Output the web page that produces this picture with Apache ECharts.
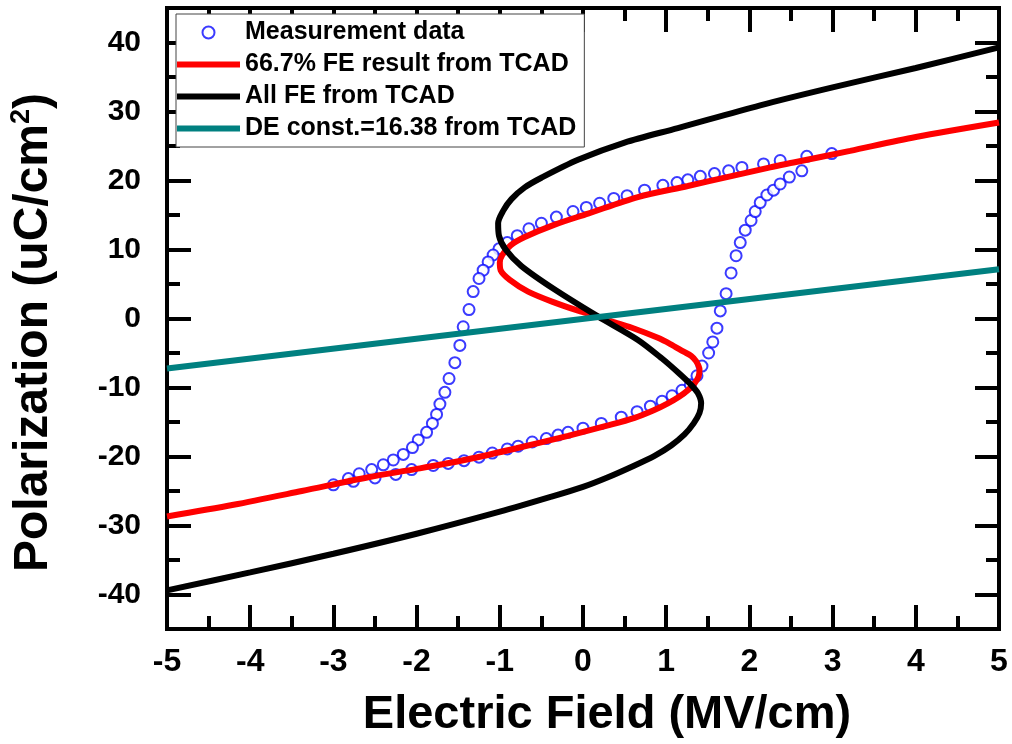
<!DOCTYPE html>
<html><head><meta charset="utf-8">
<script src="https://cdn.jsdelivr.net/npm/echarts@6/dist/echarts.min.js"></script>
<style>html,body{margin:0;padding:0;background:#fff}#c{width:1012px;height:744px}</style>
</head><body><div id="c"></div>
<script>
// ---- tick labels ----
const xTicks = [-5,-4,-3,-2,-1,0,1,2,3,4,5];
const yMajorTicks = [-40,-30,-20,-10,0,10,20,30,40];
const yMinorTicks = [-35,-25,-15,-5,5,15,25,35];

// ---- series names ----
const seriesNames = ['Measurement data','66.7% FE result from TCAD','All FE from TCAD','DE const.=16.38 from TCAD'];

// ---- Measurement data (loop order) ----
const measE = [-3.00,-2.76,-2.50,-2.25,-2.06,-1.80,-1.62,-1.43,-1.25,-1.09,-0.91,-0.78,-0.61,-0.44,-0.30,-0.18,0.00,0.22,0.46,0.65,0.81,0.95,1.07,1.19,1.29,1.37,1.43,1.51,1.56,1.61,1.65,1.72,1.78,1.84,1.89,1.95,2.02,2.07,2.13,2.21,2.29,2.37,2.48,2.63,2.99,
  2.69,2.37,2.17,1.91,1.75,1.58,1.41,1.26,1.13,0.96,0.74,0.53,0.37,0.20,0.04,-0.12,-0.32,-0.50,-0.65,-0.79,-0.91,-1.01,-1.08,-1.14,-1.20,-1.25,-1.32,-1.37,-1.44,-1.48,-1.54,-1.61,-1.66,-1.72,-1.76,-1.81,-1.88,-1.98,-2.05,-2.16,-2.28,-2.40,-2.54,-2.69,-2.82];
const measP = [-24.1,-23.6,-23.1,-22.6,-21.9,-21.3,-21.0,-20.6,-20.1,-19.5,-18.9,-18.5,-17.9,-17.4,-16.9,-16.5,-15.9,-15.2,-14.3,-13.5,-12.7,-12.0,-11.2,-10.4,-9.6,-8.3,-6.9,-5.0,-3.4,-1.4,1.1,3.6,6.6,9.1,11.0,12.8,14.2,15.5,16.8,17.9,18.6,19.5,20.5,21.4,23.9,
  23.5,22.9,22.4,21.9,21.4,21.0,20.6,20.1,19.7,19.3,18.6,17.8,17.4,16.7,16.1,15.5,14.7,13.8,13.0,12.0,11.0,10.1,9.2,8.2,7.0,5.8,3.9,1.3,-1.2,-3.9,-6.4,-8.7,-10.7,-12.4,-13.9,-15.2,-16.5,-17.6,-18.7,-19.7,-20.5,-21.2,-21.9,-22.5,-23.2];

// ---- 66.7% FE result from TCAD ----
const feE = [-5.00,-4.20,-3.38,-2.58,-2.00,-1.38,-0.80,-0.18,0.30,0.62,0.85,1.02,1.16,1.26,1.34,1.39,1.40,1.36,1.30,1.21,1.05,0.90,0.58,0.34,0.15,-0.05,-0.34,-0.66,-0.88,-0.99,-1.00,-0.97,-0.87,-0.70,-0.34,0.06,0.66,1.26,1.77,2.25,2.53,3.21,4.00,5.00];
const feP = [-28.7,-27.0,-25.0,-23.0,-21.8,-20.4,-18.8,-17.0,-15.5,-14.4,-13.3,-12.3,-11.3,-10.4,-9.4,-8.4,-7.4,-6.2,-5.4,-4.8,-3.7,-2.8,-1.3,-0.4,0.4,1.1,2.3,3.9,5.6,7.0,8.1,9.2,10.6,11.8,13.6,15.2,17.6,19.2,20.6,21.9,22.6,24.3,26.3,28.4];

// ---- All FE from TCAD ----
const allE = [-5.00,-4.00,-3.00,-2.00,-1.00,-0.40,0.00,0.30,0.60,0.86,1.06,1.22,1.33,1.40,1.42,1.38,1.29,1.15,0.95,0.66,0.18,-0.34,-0.74,-0.93,-1.01,-1.02,-0.96,-0.86,-0.70,-0.50,-0.06,0.50,1.14,2.13,3.00,4.00,5.00];
const allP = [-39.4,-36.8,-34.1,-31.2,-28.0,-25.9,-24.4,-23.0,-21.4,-19.9,-18.4,-16.8,-15.2,-13.7,-12.3,-10.8,-9.5,-7.9,-5.8,-3.1,0.3,4.2,7.6,10.0,12.0,13.8,15.6,17.3,19.0,20.4,23.0,25.5,27.6,30.9,33.5,36.3,39.3];

// ---- DE const.=16.38 from TCAD ----
const deE = [-5.00,5.00];
const deP = [-7.25,7.15];

const F = '"Liberation Sans", Arial, sans-serif';
const pairs = (a,b) => a.map((v,i)=>[v,b[i]]);

const tickStyle = {color:'#000', width:4};
function xAx(pos, labels){
  return {type:'value', position:pos, min:-5, max:5, interval:1,
    axisLine:{show:false,onZero:false},
    axisTick:{show:true,inside:true,length:24,lineStyle:tickStyle},
    minorTick:{show:true,splitNumber:2,length:13,lineStyle:tickStyle},
    splitLine:{show:false}, minorSplitLine:{show:false},
    axisLabel:{show:labels,customValues:xTicks,margin:17,fontSize:32,fontWeight:'bold',fontFamily:F,color:'#000'},
    name: labels ? 'Electric Field (MV/cm)' : '', nameLocation:'middle', nameGap:63,
    nameTextStyle:{fontSize:47,fontWeight:'bold',fontFamily:F,color:'#000',padding:[0,0,0,48]}
  };
}
function yAx(pos, ticks, len, labels){
  return {type:'value', position:pos, min:-45, max:45,
    axisLine:{show:false,onZero:false},
    axisTick:{show:true,inside:true,length:len,customValues:ticks,lineStyle:tickStyle},
    splitLine:{show:false},
    axisLabel:{show:labels,customValues:yMajorTicks,margin:26,fontSize:30,fontWeight:'bold',fontFamily:F,color:'#000'},
    name: labels ? '{a|Polarization (uC/cm}{s|2}{a|)}' : '', nameLocation:'middle', nameGap:107,
    nameTextStyle:{fontWeight:'bold',fontFamily:F,color:'#000',padding:[0,28,0,0],
      rich:{a:{fontSize:48,fontWeight:'bold',fontFamily:F,color:'#000',lineHeight:52},
            s:{fontSize:27,fontWeight:'bold',fontFamily:F,color:'#000',verticalAlign:'top',lineHeight:24}}}
  };
}

const lineIcon = 'path://M0,0H63V6H0Z';

const chart = echarts.init(document.getElementById('c'), null, {renderer:'canvas'});
chart.setOption({
  backgroundColor:'#fff',
  animation:false,
  grid:{left:165,right:13,top:8,bottom:113,show:true,borderColor:'#000',borderWidth:4,backgroundColor:'transparent'},
  xAxis:[xAx('bottom',true), xAx('top',false)],
  yAxis:[yAx('left',yMajorTicks,24,true), yAx('left',yMinorTicks,13,false), yAx('right',yMajorTicks,24,false), yAx('right',yMinorTicks,13,false)],
  legend:{orient:'vertical', left:176, top:14, itemWidth:63, itemHeight:12, itemGap:7,
    padding:[6,8,6,1], backgroundColor:'#fff', borderColor:'#444', borderWidth:1,
    textStyle:{fontSize:25,fontWeight:'bold',fontFamily:F,color:'#000'},
    data:[{name:seriesNames[0]},
          {name:seriesNames[1],icon:lineIcon},
          {name:seriesNames[2],icon:lineIcon},
          {name:seriesNames[3],icon:lineIcon}]},
  series:[
    {name:seriesNames[0], type:'scatter', data:pairs(measE,measP), symbol:'emptyCircle', symbolSize:11,
      itemStyle:{color:'#0a0aff', borderWidth:1}},
    {name:seriesNames[1], type:'line', data:pairs(feE,feP), symbol:'none', smooth:0.3, lineStyle:{color:'#ff0000',width:6}, itemStyle:{color:'#ff0000'}},
    {name:seriesNames[2], type:'line', data:pairs(allE,allP), symbol:'none', smooth:0.3, lineStyle:{color:'#000000',width:6}, itemStyle:{color:'#000000'}},
    {name:seriesNames[3], type:'line', data:pairs(deE,deP), symbol:'none', lineStyle:{color:'#008080',width:6}, itemStyle:{color:'#008080'}}
  ]
});
</script></body></html>
